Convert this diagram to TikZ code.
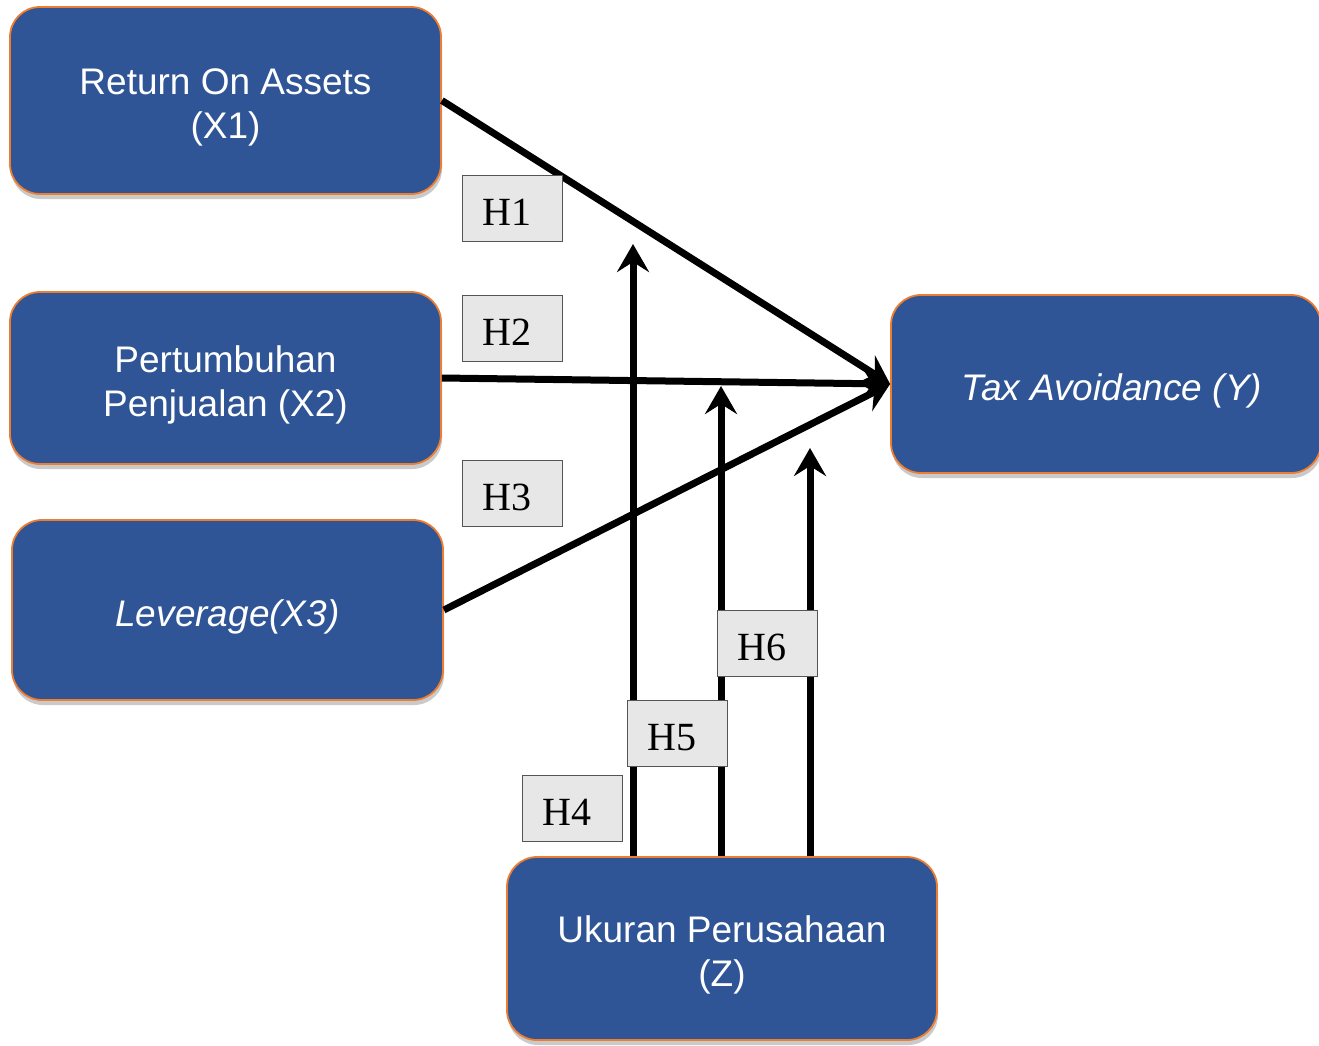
\documentclass[tikz,border=0pt]{standalone}
\usepackage{fontspec}
\setmainfont{Liberation Sans}
\newfontfamily\hfont{Liberation Serif}
\usetikzlibrary{arrows.meta,shadows}
\definecolor{boxblue}{HTML}{2F5597}
\definecolor{boxorange}{HTML}{ED7D31}
\definecolor{hgray}{HTML}{E7E7E7}
\definecolor{hborder}{HTML}{555555}
\newcommand{\hlab}[1]{\hspace*{-10pt}\rule{0pt}{35pt}#1}
\newcommand{\onelab}[1]{\rule{0pt}{41pt}#1}
\newcommand{\tstrut}{\rule{0pt}{40pt}}
\begin{document}
\begin{tikzpicture}[x=1pt,y=-1pt,
  varbox/.style={draw=boxorange,line width=1.8pt,fill=boxblue,rounded corners=30pt,
    text=white,align=center,inner sep=0pt,
    font=\fontsize{37}{44}\selectfont,
    drop shadow={shadow xshift=1pt,shadow yshift=-5pt,opacity=0.35,fill=black!60}},
  hbox/.style={draw=hborder,line width=1pt,fill=hgray,minimum width=100pt,minimum height=66pt,
    inner sep=0pt,font=\hfont\fontsize{40}{44}\selectfont},
  conn/.style={line width=7pt,-{Stealth[length=28pt,width=32pt,inset=10pt]}}
]
\useasboundingbox (0,0) rectangle (1319,1045);
\begin{scope}
\clip (0,0) rectangle (1319,1045);
\node[varbox,minimum width=431pt,minimum height=187pt] (X1) at (225.5,100.5) {\tstrut Return On Assets\\(X1)};
\node[varbox,minimum width=431pt,minimum height=172pt] (X2) at (225.5,378) {\tstrut Pertumbuhan\\Penjualan (X2)};
\node[varbox,minimum width=431pt,minimum height=180pt] (X3) at (227.5,610) {\onelab{\itshape Leverage(X3)}};
\node[varbox,minimum width=430pt,minimum height=178pt] (Y) at (1106,384) {\hspace*{12pt}\onelab{\itshape Tax Avoidance (Y)}};
\node[varbox,minimum width=430pt,minimum height=183pt] (Z) at (722,948.5) {\tstrut Ukuran Perusahaan\\(Z)};
\end{scope}

\coordinate (t4) at (633,244);
\coordinate (t5) at (721,386);
\coordinate (t6) at (810,448);

\draw[conn] (X1.east) -- (Y.west);
\draw[conn] (X2.east) -- (Y.west);
\draw[conn] (X3.east) -- (Y.west);
\draw[conn] (Z.north -| t4) -- (t4);
\draw[conn] (Z.north -| t5) -- (t5);
\draw[conn] (Z.north -| t6) -- (t6);

\node[hbox] (H1) at (512,208) {\hlab{H1}};
\node[hbox] (H2) at (512,328) {\hlab{H2}};
\node[hbox] (H3) at (512,493) {\hlab{H3}};
\node[hbox] (H4) at (572,808) {\hlab{H4}};
\node[hbox] (H5) at (677,733) {\hlab{H5}};
\node[hbox] (H6) at (767,643) {\hlab{H6}};
\end{tikzpicture}
\end{document}
